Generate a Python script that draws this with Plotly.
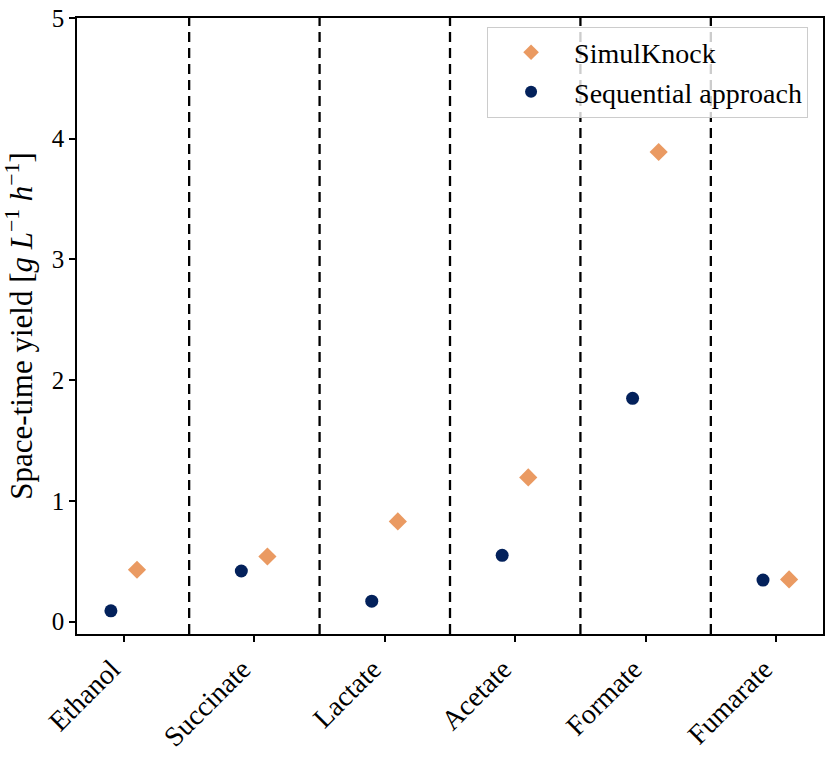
import plotly.graph_objects as go

categories = ["Ethanol", "Succinate", "Lactate", "Acetate", "Formate", "Fumarate"]
simulknock = [0.43, 0.54, 0.83, 1.195, 3.89, 0.35]
sequential = [0.09, 0.42, 0.17, 0.55, 1.85, 0.345]
y_ticks = [0, 1, 2, 3, 4, 5]

offset = 0.1
xs = list(range(len(categories)))
FONT = "Liberation Serif"

fig = go.Figure()
fig.add_trace(go.Scatter(
    x=[x + offset for x in xs], y=simulknock, mode="markers", name="SimulKnock",
    marker=dict(symbol="diamond", size=14, color="#EA9A62"),
))
fig.add_trace(go.Scatter(
    x=[x - offset for x in xs], y=sequential, mode="markers", name="Sequential approach",
    marker=dict(symbol="circle", size=13, color="#03215B"),
))

for i in range(len(categories) - 1):
    fig.add_shape(type="line", x0=i + 0.5, x1=i + 0.5, y0=0, y1=1,
                  xref="x", yref="paper", line=dict(color="black", width=2.3, dash="10px,6px"))

fig.update_layout(
    width=830, height=761,
    margin=dict(l=72, r=5, t=15, b=127),
    plot_bgcolor="white", paper_bgcolor="white",
    font=dict(family=FONT, size=26, color="black"),
    showlegend=True,
    legend=dict(x=0.98, y=0.986, xanchor="right", yanchor="top",
                bordercolor="#cccccc", borderwidth=1, bgcolor="rgba(255,255,255,0.8)",
                font=dict(family=FONT, size=28), itemsizing="constant", itemwidth=76,
                tracegroupgap=4),
    xaxis=dict(range=[-0.36, len(categories) - 1 + 0.36], tickmode="array",
               tickvals=xs, ticktext=categories, tickangle=-45,
               showline=True, linecolor="black", linewidth=1.5, mirror=True,
               ticks="outside", ticklen=6, tickwidth=1.5, tickcolor="black",
               showgrid=False, zeroline=False, tickfont=dict(family=FONT, size=28),
               ticklabelshift=-12),
    yaxis=dict(range=[-0.102, 5], tickmode="array", tickvals=y_ticks,
               ticktext=[str(t) for t in y_ticks],
               showline=True, linecolor="black", linewidth=1.5, mirror=True,
               ticks="outside", ticklen=6, tickwidth=1.5, tickcolor="black",
               showgrid=False, zeroline=False, tickfont=dict(family=FONT, size=25),
               title=dict(text="Space-time yield [<i>g L</i><sup>−1</sup> <i>h</i><sup>−1</sup>]",
                          font=dict(family=FONT, size=31), standoff=25)),
)

fig.write_html("out.html", config={"displayModeBar": False},
               post_script="document.body.style.margin='0';document.body.style.overflow='hidden';")
